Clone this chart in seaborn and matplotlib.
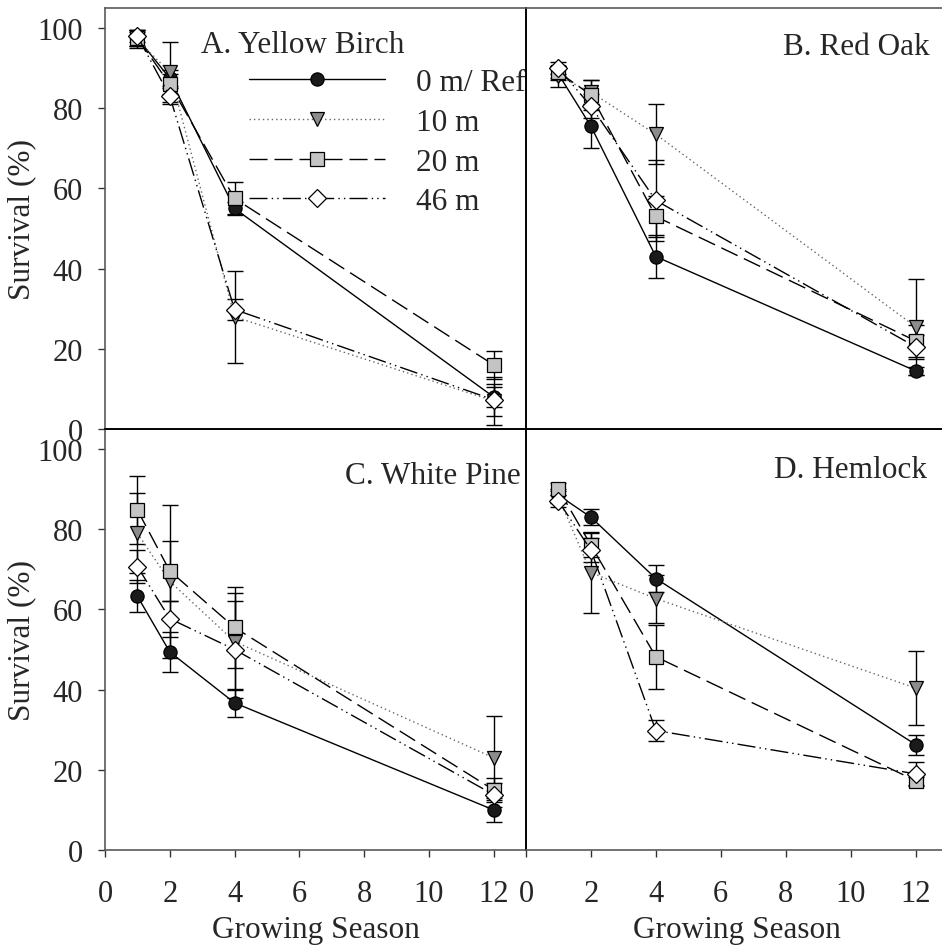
import numpy as np
import pandas as pd
import matplotlib
matplotlib.use("Agg")
import matplotlib.pyplot as plt
import seaborn as sns

# ---------------- data ----------------
seasons = [1, 2, 4, 12]
series_labels = ["0 m/ Ref", "10 m", "20 m", "46 m"]
panel_titles = ["A. Yellow Birch", "B. Red Oak", "C. White Pine", "D. Hemlock"]

yellow_birch = [[97.5, 87.5, 55.0, 8.0],
                [97.0, 89.0, 28.0, 7.0],
                [97.5, 86.0, 57.5, 16.0],
                [98.0, 83.0, 29.8, 7.3]]
yellow_birch_err = [[2.0, 2.0, 1.7, 2.5],
                    [2.0, 7.5, 11.5, 6.0],
                    [2.0, 2.5, 4.0, 3.5],
                    [1.5, 2.0, 2.5, 4.0]]

red_oak = [[88.5, 75.5, 43.0, 14.5],
           [88.0, 84.0, 73.5, 25.5],
           [89.0, 83.3, 53.0, 22.0],
           [90.0, 80.5, 57.0, 20.5]]
red_oak_err = [[1.5, 5.5, 5.3, 1.0],
               [2.6, 3.0, 7.5, 12.0],
               [1.5, 3.7, 5.0, 4.0],
               [1.5, 3.0, 10.0, 3.0]]

white_pine = [[63.3, 49.4, 36.7, 10.0],
              [79.0, 67.0, 52.0, 23.0],
              [84.8, 69.6, 55.5, 15.0],
              [70.7, 57.7, 50.0, 13.8]]
white_pine_err = [[4.0, 5.0, 3.5, 3.0],
                  [10.0, 19.0, 12.0, 10.5],
                  [8.4, 7.5, 10.0, 3.0],
                  [4.0, 4.5, 12.0, 3.0]]

hemlock = [[88.5, 83.0, 67.7, 26.3],
           [88.0, 69.2, 62.7, 40.4],
           [90.0, 76.0, 48.2, 17.3],
           [87.0, 74.8, 29.8, 19.0]]
hemlock_err = [[1.5, 2.0, 3.3, 2.5],
               [1.5, 10.0, 6.0, 9.3],
               [1.5, 3.0, 8.0, 1.0],
               [1.5, 3.0, 2.5, 3.0]]

x_ticks = [0, 2, 4, 6, 8, 10, 12]
y_ticks = [0, 20, 40, 60, 80, 100]

# ---------------- style ----------------
sns.set_style("ticks")
plt.rcParams["font.family"] = ["Liberation Serif", "DejaVu Serif"]
plt.rcParams["mathtext.fontset"] = "stix"

markers = ["o", "v", "s", "D"]
marker_faces = ["#1a1a1a", "#8c8c8c", "#c4c4c4", "white"]
marker_sizes = [9.5, 10.5, 9.5, 9.5]
line_colors = ["black", "#666666", "black", "black"]
line_styles = ["-", (0, (1, 2.2)), (0, (13, 5)), (0, (13, 3, 1, 3, 1, 3))]

W, H = 942, 953
fig = plt.figure(figsize=(W / 100, H / 100), dpi=100)

def px_rect(x0, y0, x1, y1):
    return [x0 / W, 1 - y1 / H, (x1 - x0) / W, (y1 - y0) / H]

rects = [px_rect(105, 9, 526, 430), px_rect(526, 9, 948, 430),
         px_rect(105, 430, 526, 851), px_rect(526, 430, 948, 851)]
panel_data = [(yellow_birch, yellow_birch_err), (red_oak, red_oak_err),
              (white_pine, white_pine_err), (hemlock, hemlock_err)]
title_pos = [(9.25, 96.0), (12.42, 95.5), (12.85, 93.5), (12.35, 95.0)]

TICK_FS = 22
LAB_FS = 22.5
outer_grey = "#5a5a5a"

axes = []
for i, (rect, (means, errs)) in enumerate(zip(rects, panel_data)):
    ax = fig.add_axes(rect)
    ax.patch.set_visible(False)
    for k in range(4):
        df = pd.DataFrame({"season": seasons, "survival": means[k], "se": errs[k]})
        ax.errorbar(df["season"], df["survival"], yerr=df["se"], fmt="none",
                    ecolor="black", elinewidth=1.0, capsize=6, capthick=1.0, zorder=3)
        sns.lineplot(data=df, x="season", y="survival", ax=ax,
                     color=line_colors[k], linestyle=line_styles[k], linewidth=1.0,
                     marker=markers[k], markersize=marker_sizes[k],
                     markerfacecolor=marker_faces[k], markeredgecolor="black",
                     markeredgewidth=0.9, label=series_labels[k], zorder=4 + k,
                     legend=False)
    ax.set_xlim(0, 13)
    ax.set_ylim(0, 105)
    ax.set_xticks(x_ticks)
    ax.set_yticks(y_ticks)
    ax.set_xlabel("")
    ax.set_ylabel("")
    ax.tick_params(axis="both", direction="out", length=5, width=1, color="#333333",
                   labelsize=TICK_FS)
    ax.tick_params(axis="y", pad=11)
    ax.tick_params(axis="x", pad=16)
    for s in ax.spines.values():
        s.set_visible(True)
        s.set_linewidth(1.2)
        s.set_color("black")
    row, col = divmod(i, 2)
    if row == 0:
        ax.spines["top"].set_color(outer_grey)
        ax.tick_params(axis="x", bottom=False, labelbottom=False)
    else:
        ax.spines["bottom"].set_color(outer_grey)
        ax.set_xlabel("Growing Season", fontsize=LAB_FS, labelpad=5)
    if col == 0:
        ax.spines["left"].set_color(outer_grey)
        ax.set_ylabel("Survival (%)", fontsize=LAB_FS, labelpad=1)
    else:
        ax.tick_params(axis="y", left=False, labelleft=False)
    tx, ty = title_pos[i]
    ax.text(tx, ty, panel_titles[i], ha="right", va="center", fontsize=LAB_FS, zorder=20)
    axes.append(ax)

# legend in panel A
handles = axes[0].get_lines()
leg_handles = [h for h in handles if h.get_label() in series_labels]
leg = axes[0].legend(leg_handles, [h.get_label() for h in leg_handles],
                     loc="upper left", bbox_to_anchor=(249 / W, 1 - 69 / H),
                     bbox_transform=fig.transFigure, frameon=False,
                     fontsize=LAB_FS, handlelength=4.35, handletextpad=1.0,
                     labelspacing=0.345, borderpad=0, borderaxespad=0, numpoints=1)
leg.set_zorder(30)

fig.savefig("out.png", dpi=100)
